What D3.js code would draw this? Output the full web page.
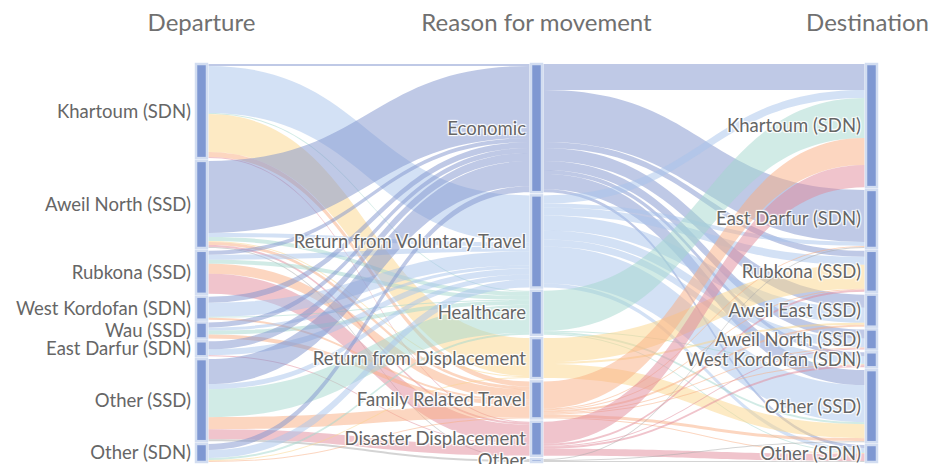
<!DOCTYPE html>
<html>
<head>
<meta charset="utf-8">
<script src="https://cdn.jsdelivr.net/npm/d3@7"></script>
<style>
  body { margin: 0; background: #fff; }
  svg text { font-family: Lato, "Open Sans", sans-serif; fill: #666; }
  .lbl { text-shadow: 1px 1px 1px #fff, -1px -1px 1px #fff, 1px -1px 1px #fff, -1px 1px 1px #fff; }
</style>
</head>
<body>
<svg id="chart" width="931" height="464"></svg>
<script>
// column titles
var columns = ["Departure", "Reason for movement", "Destination"];

var departures = ["Khartoum (SDN)", "Aweil North (SSD)", "Rubkona (SSD)", "West Kordofan (SDN)",
  "Wau (SSD)", "East Darfur (SDN)", "Other (SSD)", "Other (SDN)"];

var reasons = ["Economic", "Return from Voluntary Travel", "Healthcare", "Return from Displacement",
  "Family Related Travel", "Disaster Displacement", "Other"];

var destinations = ["Khartoum (SDN)", "East Darfur (SDN)", "Rubkona (SSD)", "Aweil East (SSD)",
  "Aweil North (SSD)", "West Kordofan (SDN)", "Other (SSD)", "Other (SDN)"];

var reasonColors = ["rgba(128,147,205,0.5)", "rgba(167,195,235,0.5)", "rgba(163,215,205,0.5)",
  "rgba(251,213,137,0.5)", "rgba(249,173,129,0.5)", "rgba(225,137,153,0.5)", "rgba(170,170,170,0.5)"];

// share of movements (%), departure rows x reason columns
var departureFlows = [
  [2, 47, 1, 38, 5, 1, 0],
  [72, 4, 4, 1, 3, 2, 1],
  [4, 5, 4, 0, 10, 20, 0],
  [6, 14, 1, 0, 2, 0, 0],
  [5, 3, 4, 0, 4, 0, 0],
  [8, 6, 0, 0, 0, 1, 0],
  [25, 5, 28, 0, 12, 10, 2],
  [6, 8, 2, 1, 1, 0, 0]
];

// reason rows x destination columns
var destinationFlows = [
  [26, 52, 6, 13, 9, 4, 15, 3],
  [8, 4, 8, 15, 9, 7, 37, 4],
  [40, 0, 0, 0, 0, 1, 2, 1],
  [0, 0, 24, 2, 0, 0, 14, 0],
  [27, 1, 1, 2, 1, 1, 3, 1],
  [22, 0, 2, 0, 1, 2, 0, 7],
  [0, 1, 0, 0, 0, 0, 1, 1]
];

var svg = d3.select("#chart");
var yTop = 64, yBottom = 462, nodeWidth = 11;

var x = d3.scalePoint().domain(columns).range([196, 866]);

// nodes per column
var cols = [departures, reasons, destinations].map(function(names, c) {
  return names.map(function(name, i) {
    return { name: name, col: c, index: i, sourceLinks: [], targetLinks: [] };
  });
});

// links
var links = [];
departureFlows.forEach(function(row, i) {
  row.forEach(function(v, j) {
    if (v > 0) links.push({ source: cols[0][i], target: cols[1][j], value: v, color: reasonColors[j] });
  });
});
destinationFlows.forEach(function(row, i) {
  row.forEach(function(v, j) {
    if (v > 0) links.push({ source: cols[1][i], target: cols[2][j], value: v, color: reasonColors[i] });
  });
});
links.forEach(function(l) {
  l.source.sourceLinks.push(l);
  l.target.targetLinks.push(l);
});

// node values and positions
var total = d3.sum(departureFlows, function(r) { return d3.sum(r); });
var ky = (yBottom - yTop - 7 * 2.8) / total;
cols.forEach(function(nodes) {
  nodes.forEach(function(n) {
    n.value = Math.max(d3.sum(n.sourceLinks, function(l) { return l.value; }),
                       d3.sum(n.targetLinks, function(l) { return l.value; }));
  });
  var sum = d3.sum(nodes, function(n) { return n.value; });
  var pad = (yBottom - yTop - sum * ky) / (nodes.length - 1);
  var y = yTop;
  nodes.forEach(function(n) {
    n.x0 = x(columns[n.col]);
    n.x1 = n.x0 + nodeWidth;
    n.y0 = y;
    n.y1 = y + n.value * ky;
    y = n.y1 + pad;
  });
});

// link offsets within nodes
cols.forEach(function(nodes) {
  nodes.forEach(function(n) {
    var y0 = n.y0;
    n.sourceLinks.sort(function(a, b) { return a.target.index - b.target.index; });
    n.sourceLinks.forEach(function(l) { l.width = l.value * ky; l.sy = y0; y0 += l.width; });
    var y1 = n.y0;
    n.targetLinks.sort(function(a, b) { return a.source.index - b.source.index; });
    n.targetLinks.forEach(function(l) { l.ty = y1; y1 += l.value * ky; });
  });
});

function ribbon(l) {
  var x0 = l.source.x1 + 1.5, x1 = l.target.x0 - 1.5, xm = (x0 + x1) / 2;
  var p = d3.path();
  p.moveTo(x0, l.sy);
  p.bezierCurveTo(xm, l.sy, xm, l.ty, x1, l.ty);
  p.lineTo(x1, l.ty + l.width);
  p.bezierCurveTo(xm, l.ty + l.width, xm, l.sy + l.width, x0, l.sy + l.width);
  p.closePath();
  return p.toString();
}

svg.append("g")
  .selectAll("path")
  .data(links)
  .join("path")
    .attr("d", ribbon)
    .attr("fill", function(d) { return d.color; });

var allNodes = [].concat(cols[0], cols[1], cols[2]);

svg.append("g")
  .selectAll("rect")
  .data(allNodes)
  .join("rect")
    .attr("x", function(d) { return d.x0; })
    .attr("y", function(d) { return d.y0; })
    .attr("width", nodeWidth)
    .attr("height", function(d) { return Math.max(1, d.y1 - d.y0); })
    .attr("fill", "#7f98d2")
    .attr("stroke", "#d2ddf1")
    .attr("stroke-width", 2.5);

svg.append("g")
  .selectAll("text")
  .data(allNodes)
  .join("text")
    .attr("class", "lbl")
    .attr("x", function(d) { return d.x0 - 5; })
    .attr("y", function(d) { return (d.y0 + d.y1) / 2; })
    .attr("dy", "0.35em")
    .attr("text-anchor", "end")
    .style("font-size", "18.5px")
    .text(function(d) { return d.name; });

svg.append("g")
  .selectAll("text")
  .data(columns)
  .join("text")
    .attr("x", function(d, i) { return i === 2 ? 929 : x(d) + nodeWidth / 2; })
    .attr("y", 31)
    .attr("text-anchor", function(d, i) { return i === 2 ? "end" : "middle"; })
    .style("font-size", "24px")
    .style("fill", "#707070")
    .text(function(d) { return d; });
</script>
</body>
</html>
